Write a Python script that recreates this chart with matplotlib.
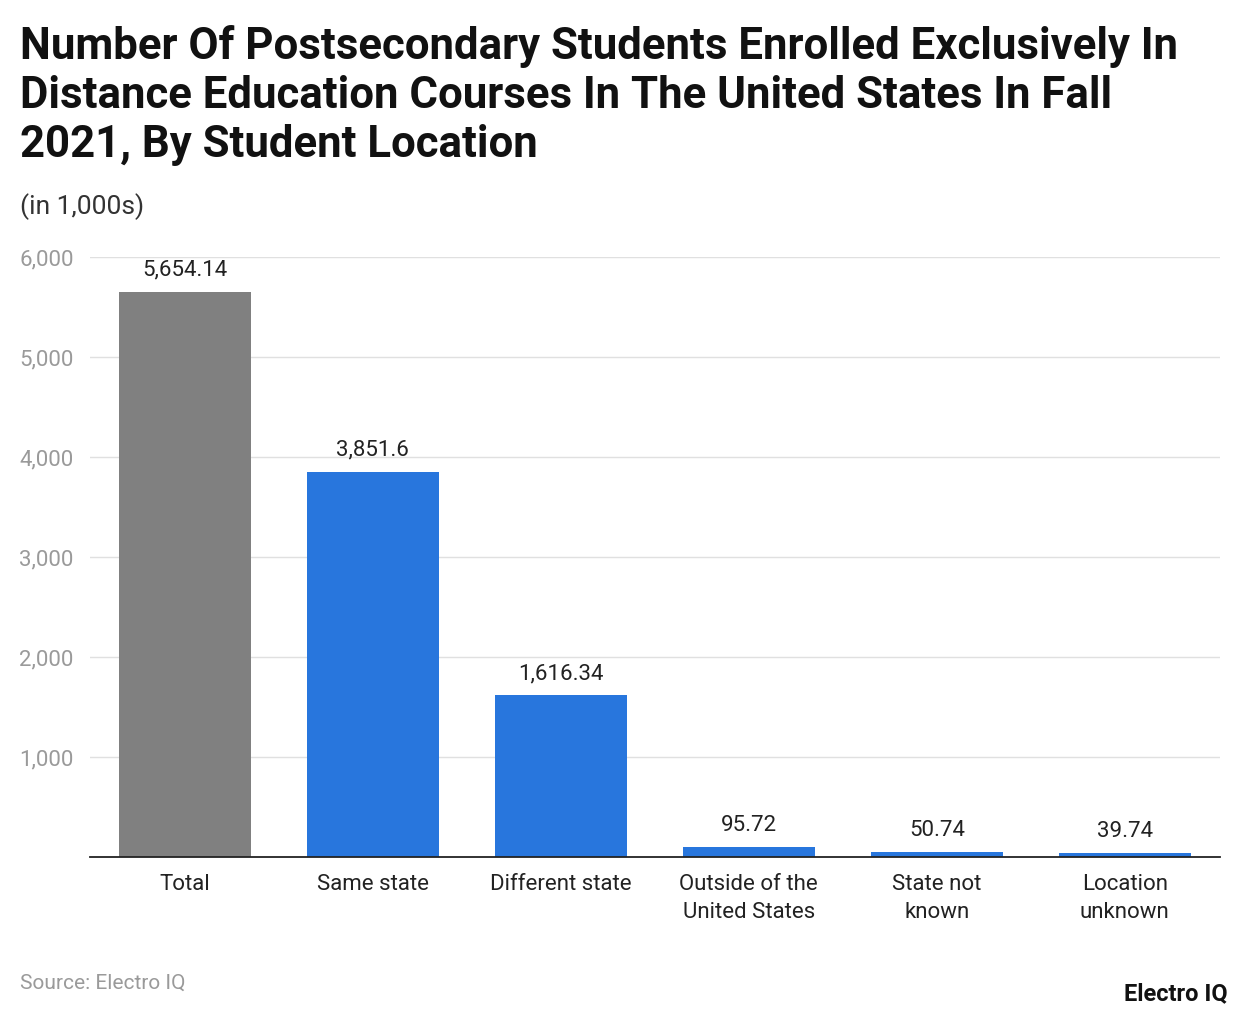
import matplotlib.pyplot as plt

categories = ["Total", "Same state", "Different state", "Outside of the\nUnited States",
              "State not\nknown", "Location\nunknown"]
values = [5654.14, 3851.6, 1616.34, 95.72, 50.74, 39.74]
labels = ["5,654.14", "3,851.6", "1,616.34", "95.72", "50.74", "39.74"]
colors = ["#808080"] + ["#2876dd"] * 5

plt.rcParams["font.family"] = ["Roboto", "DejaVu Sans"]

fig = plt.figure(figsize=(12.4, 10.16), dpi=100)
ax = fig.add_axes([0.0726, 0.1565, 0.911, 0.5905])

x = range(len(categories))
ax.bar(x, values, width=0.70, color=colors, zorder=2)
for i, (v, lab) in enumerate(zip(values, labels)):
    ax.annotate(lab, (i, v), xytext=(0, 8), textcoords="offset points",
                ha="center", va="bottom", fontsize=16, color="#222222")

ax.set_xlim(-0.505, 5.505)
ax.set_ylim(0, 6000)
ax.set_yticks(range(1000, 7000, 1000))
ax.set_yticklabels([f"{t:,}" for t in range(1000, 7000, 1000)])
ax.set_xticks(list(x))
ax.set_xticklabels(categories, fontsize=16, color="#222222", linespacing=1.45)
ax.tick_params(axis="y", length=0, labelsize=16, labelcolor="#9a9a9a")
ax.tick_params(axis="x", length=0, pad=12)
for lab in ax.get_yticklabels():
    lab.set_horizontalalignment("left")
ax.yaxis.set_tick_params(pad=51)
ax.grid(axis="y", color="#e0e0e0", linewidth=1, zorder=0)
for s in ["top", "right", "left"]:
    ax.spines[s].set_visible(False)
ax.spines["bottom"].set_color("#222222")
ax.spines["bottom"].set_linewidth(1.3)

fig.text(0.016, 0.975, "Number Of Postsecondary Students Enrolled Exclusively In\n"
         "Distance Education Courses In The United States In Fall\n2021, By Student Location",
         fontsize=31.5, fontweight="bold", va="top", ha="left", linespacing=1.2, color="#111111")
fig.text(0.016, 0.797, "(in 1,000s)", fontsize=19, va="center", ha="left", color="#333333")
fig.text(0.016, 0.032, "Source: Electro IQ", fontsize=15, va="center", ha="left", color="#9a9a9a")
fig.text(0.99, 0.022, "Electro IQ", fontsize=17, fontweight="bold", va="center", ha="right", color="#111111")

fig.savefig("out.png", dpi=100)
